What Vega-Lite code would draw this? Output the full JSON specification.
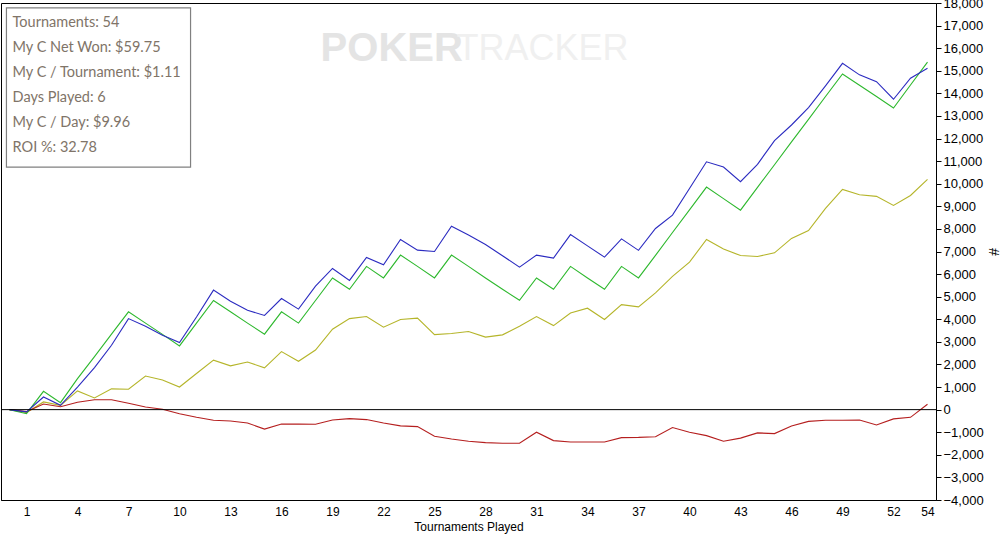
{
  "$schema": "https://vega.github.io/schema/vega-lite/v6.json",
  "width": 935,
  "height": 497,
  "autosize": {"type": "none"},
  "padding": {"left": 1, "top": 3, "right": 65, "bottom": 40},
  "background": "white",
  "config": {
    "view": {"stroke": "#000000", "strokeWidth": 1},
    "axis": {
      "labelFont": "Liberation Sans",
      "titleFont": "Liberation Sans",
      "labelColor": "#000000",
      "titleColor": "#000000",
      "domainColor": "#000000",
      "tickColor": "#000000",
      "gridColor": "#ebebeb",
      "titleFontWeight": "normal"
    }
  },
  "datasets": {
    "results": [
      {"t": 0, "allin_adj": 0, "net_won": 0, "showdown": 0, "non_showdown": 0},
      {"t": 1, "allin_adj": -100, "net_won": -180, "showdown": -130, "non_showdown": -90},
      {"t": 2, "allin_adj": 560, "net_won": 810, "showdown": 340, "non_showdown": 250},
      {"t": 3, "allin_adj": 190, "net_won": 310, "showdown": 190, "non_showdown": 130},
      {"t": 4, "allin_adj": 1000, "net_won": 1370, "showdown": 830, "non_showdown": 330},
      {"t": 5, "allin_adj": 1860, "net_won": 2350, "showdown": 520, "non_showdown": 440},
      {"t": 6, "allin_adj": 2850, "net_won": 3340, "showdown": 920, "non_showdown": 440},
      {"t": 7, "allin_adj": 4030, "net_won": 4330, "showdown": 900, "non_showdown": 280},
      {"t": 8, "allin_adj": 3690, "net_won": 3830, "showdown": 1490, "non_showdown": 120},
      {"t": 9, "allin_adj": 3290, "net_won": 3330, "showdown": 1310, "non_showdown": 15},
      {"t": 10, "allin_adj": 2970, "net_won": 2820, "showdown": 1000, "non_showdown": -180},
      {"t": 11, "allin_adj": 4100, "net_won": 3830, "showdown": 1600, "non_showdown": -340},
      {"t": 12, "allin_adj": 5290, "net_won": 4830, "showdown": 2190, "non_showdown": -470},
      {"t": 13, "allin_adj": 4800, "net_won": 4330, "showdown": 1940, "non_showdown": -500},
      {"t": 14, "allin_adj": 4400, "net_won": 3830, "showdown": 2110, "non_showdown": -590},
      {"t": 15, "allin_adj": 4170, "net_won": 3340, "showdown": 1850, "non_showdown": -860},
      {"t": 16, "allin_adj": 4920, "net_won": 4330, "showdown": 2570, "non_showdown": -640},
      {"t": 17, "allin_adj": 4450, "net_won": 3830, "showdown": 2140, "non_showdown": -640},
      {"t": 18, "allin_adj": 5470, "net_won": 4830, "showdown": 2640, "non_showdown": -650},
      {"t": 19, "allin_adj": 6250, "net_won": 5830, "showdown": 3560, "non_showdown": -460},
      {"t": 20, "allin_adj": 5720, "net_won": 5330, "showdown": 4030, "non_showdown": -400},
      {"t": 21, "allin_adj": 6740, "net_won": 6340, "showdown": 4120, "non_showdown": -440},
      {"t": 22, "allin_adj": 6410, "net_won": 5830, "showdown": 3650, "non_showdown": -590},
      {"t": 23, "allin_adj": 7530, "net_won": 6840, "showdown": 3990, "non_showdown": -720},
      {"t": 24, "allin_adj": 7060, "net_won": 6340, "showdown": 4050, "non_showdown": -750},
      {"t": 25, "allin_adj": 7000, "net_won": 5830, "showdown": 3320, "non_showdown": -1180},
      {"t": 26, "allin_adj": 8120, "net_won": 6840, "showdown": 3370, "non_showdown": -1300},
      {"t": 27, "allin_adj": 7730, "net_won": 6340, "showdown": 3460, "non_showdown": -1400},
      {"t": 28, "allin_adj": 7310, "net_won": 5830, "showdown": 3210, "non_showdown": -1460},
      {"t": 29, "allin_adj": 6810, "net_won": 5330, "showdown": 3310, "non_showdown": -1490},
      {"t": 30, "allin_adj": 6310, "net_won": 4840, "showdown": 3690, "non_showdown": -1490},
      {"t": 31, "allin_adj": 6840, "net_won": 5830, "showdown": 4120, "non_showdown": -1000},
      {"t": 32, "allin_adj": 6710, "net_won": 5330, "showdown": 3720, "non_showdown": -1370},
      {"t": 33, "allin_adj": 7750, "net_won": 6340, "showdown": 4280, "non_showdown": -1430},
      {"t": 34, "allin_adj": 7250, "net_won": 5830, "showdown": 4490, "non_showdown": -1430},
      {"t": 35, "allin_adj": 6750, "net_won": 5330, "showdown": 3990, "non_showdown": -1430},
      {"t": 36, "allin_adj": 7560, "net_won": 6340, "showdown": 4650, "non_showdown": -1240},
      {"t": 37, "allin_adj": 7050, "net_won": 5830, "showdown": 4550, "non_showdown": -1230},
      {"t": 38, "allin_adj": 8020, "net_won": 6830, "showdown": 5170, "non_showdown": -1200},
      {"t": 39, "allin_adj": 8610, "net_won": 7840, "showdown": 5900, "non_showdown": -790},
      {"t": 40, "allin_adj": 9790, "net_won": 8840, "showdown": 6530, "non_showdown": -1000},
      {"t": 41, "allin_adj": 10970, "net_won": 9850, "showdown": 7530, "non_showdown": -1150},
      {"t": 42, "allin_adj": 10740, "net_won": 9340, "showdown": 7110, "non_showdown": -1400},
      {"t": 43, "allin_adj": 10090, "net_won": 8830, "showdown": 6820, "non_showdown": -1260},
      {"t": 44, "allin_adj": 10860, "net_won": 9840, "showdown": 6780, "non_showdown": -1030},
      {"t": 45, "allin_adj": 11910, "net_won": 10840, "showdown": 6940, "non_showdown": -1060},
      {"t": 46, "allin_adj": 12600, "net_won": 11850, "showdown": 7580, "non_showdown": -720},
      {"t": 47, "allin_adj": 13370, "net_won": 12850, "showdown": 7930, "non_showdown": -520},
      {"t": 48, "allin_adj": 14330, "net_won": 13860, "showdown": 8910, "non_showdown": -470},
      {"t": 49, "allin_adj": 15330, "net_won": 14860, "showdown": 9750, "non_showdown": -470},
      {"t": 50, "allin_adj": 14820, "net_won": 14360, "showdown": 9510, "non_showdown": -460},
      {"t": 51, "allin_adj": 14520, "net_won": 13860, "showdown": 9440, "non_showdown": -680},
      {"t": 52, "allin_adj": 13740, "net_won": 13350, "showdown": 9040, "non_showdown": -410},
      {"t": 53, "allin_adj": 14670, "net_won": 14370, "showdown": 9480, "non_showdown": -340},
      {"t": 54, "allin_adj": 15110, "net_won": 15380, "showdown": 10190, "non_showdown": 240}
    ],
    "stats": [
      {"label": "Tournaments: 54", "row": 17100},
      {"label": "My C Net Won: $59.75", "row": 15990},
      {"label": "My C / Tournament: $1.11", "row": 14880},
      {"label": "Days Played: 6", "row": 13780},
      {"label": "My C / Day: $9.96", "row": 12670},
      {"label": "ROI %: 32.78", "row": 11560}
    ]
  },
  "layer": [
    {
      "data": {"values": [{}]},
      "mark": {"type": "text", "font": "Liberation Sans", "fontSize": 40, "fontWeight": "bold", "baseline": "middle", "align": "left", "color": "#e4e4e4", "text": "POKER"},
      "encoding": {
        "x": {"datum": 18.3, "type": "quantitative", "title": "Tournaments Played", "scale": {"domain": [-0.5, 54.5], "nice": false, "zero": false}, "axis": {"values": [1, 4, 7, 10, 13, 16, 19, 22, 25, 28, 31, 34, 37, 40, 43, 46, 49, 52, 54], "titleFontSize": 12, "titlePadding": 4, "labelFontSize": 12, "labelPadding": 6, "ticks": false, "labelAngle": 0}},
        "y": {"datum": 15950, "type": "quantitative", "title": "#", "scale": {"domain": [-4000, 18000], "nice": false, "zero": false}, "axis": {"orient": "right", "values": [-4000, -3000, -2000, -1000, 0, 1000, 2000, 3000, 4000, 5000, 6000, 7000, 8000, 9000, 10000, 11000, 12000, 13000, 14000, 15000, 16000, 17000, 18000], "format": ",d", "titleFontSize": 14, "titlePadding": 2, "labelFontSize": 13, "labelPadding": 2, "labelOverlap": false, "tickSize": 5}}
      }
    },
    {
      "data": {"values": [{}]},
      "mark": {"type": "text", "font": "Liberation Sans", "fontSize": 36, "baseline": "middle", "align": "left", "color": "#f0f0f0", "text": "TRACKER"},
      "encoding": {
        "x": {"datum": 26.3, "type": "quantitative", "title": "Tournaments Played", "scale": {"domain": [-0.5, 54.5], "nice": false, "zero": false}, "axis": {"values": [1, 4, 7, 10, 13, 16, 19, 22, 25, 28, 31, 34, 37, 40, 43, 46, 49, 52, 54], "titleFontSize": 12, "titlePadding": 4, "labelFontSize": 12, "labelPadding": 6, "ticks": false, "labelAngle": 0}},
        "y": {"datum": 15950, "type": "quantitative", "title": "#", "scale": {"domain": [-4000, 18000], "nice": false, "zero": false}, "axis": {"orient": "right", "values": [-4000, -3000, -2000, -1000, 0, 1000, 2000, 3000, 4000, 5000, 6000, 7000, 8000, 9000, 10000, 11000, 12000, 13000, 14000, 15000, 16000, 17000, 18000], "format": ",d", "titleFontSize": 14, "titlePadding": 2, "labelFontSize": 13, "labelPadding": 2, "labelOverlap": false, "tickSize": 5}}
      }
    },
    {
      "data": {"name": "results"},
      "transform": [
        {"fold": ["showdown", "non_showdown", "net_won", "allin_adj"], "as": ["series", "value"]}
      ],
      "mark": {"type": "line", "strokeWidth": 1.1},
      "encoding": {
        "x": {"field": "t", "type": "quantitative", "title": "Tournaments Played", "scale": {"domain": [-0.5, 54.5], "nice": false, "zero": false}, "axis": {"values": [1, 4, 7, 10, 13, 16, 19, 22, 25, 28, 31, 34, 37, 40, 43, 46, 49, 52, 54], "titleFontSize": 12, "titlePadding": 4, "labelFontSize": 12, "labelPadding": 6, "ticks": false, "labelAngle": 0}},
        "y": {"field": "value", "type": "quantitative", "title": "#", "scale": {"domain": [-4000, 18000], "nice": false, "zero": false}, "axis": {"orient": "right", "values": [-4000, -3000, -2000, -1000, 0, 1000, 2000, 3000, 4000, 5000, 6000, 7000, 8000, 9000, 10000, 11000, 12000, 13000, 14000, 15000, 16000, 17000, 18000], "format": ",d", "titleFontSize": 14, "titlePadding": 2, "labelFontSize": 13, "labelPadding": 2, "labelOverlap": false, "tickSize": 5}},
        "color": {
          "field": "series",
          "type": "nominal",
          "legend": null,
          "scale": {
            "domain": ["allin_adj", "net_won", "showdown", "non_showdown"],
            "range": ["#2b2bc0", "#2db82d", "#b5b52a", "#b51f1f"]
          }
        },
        "order": {"field": "t"}
      }
    },
    {
      "data": {"values": [{}]},
      "mark": {"type": "rule", "color": "#000000", "strokeWidth": 1},
      "encoding": {
        "y": {"datum": 0, "type": "quantitative", "title": "#", "scale": {"domain": [-4000, 18000], "nice": false, "zero": false}, "axis": {"orient": "right", "values": [-4000, -3000, -2000, -1000, 0, 1000, 2000, 3000, 4000, 5000, 6000, 7000, 8000, 9000, 10000, 11000, 12000, 13000, 14000, 15000, 16000, 17000, 18000], "format": ",d", "titleFontSize": 14, "titlePadding": 2, "labelFontSize": 13, "labelPadding": 2, "labelOverlap": false, "tickSize": 5}}
      }
    },
    {
      "data": {"values": [{}]},
      "mark": {"type": "rect", "fill": "#ffffff", "fillOpacity": 0.5, "stroke": "#808080", "strokeWidth": 1.2},
      "encoding": {
        "x": {"datum": -0.18, "type": "quantitative", "title": "Tournaments Played", "scale": {"domain": [-0.5, 54.5], "nice": false, "zero": false}, "axis": {"values": [1, 4, 7, 10, 13, 16, 19, 22, 25, 28, 31, 34, 37, 40, 43, 46, 49, 52, 54], "titleFontSize": 12, "titlePadding": 4, "labelFontSize": 12, "labelPadding": 6, "ticks": false, "labelAngle": 0}},
        "x2": {"datum": 10.65},
        "y": {"datum": 17780, "type": "quantitative", "title": "#", "scale": {"domain": [-4000, 18000], "nice": false, "zero": false}, "axis": {"orient": "right", "values": [-4000, -3000, -2000, -1000, 0, 1000, 2000, 3000, 4000, 5000, 6000, 7000, 8000, 9000, 10000, 11000, 12000, 13000, 14000, 15000, 16000, 17000, 18000], "format": ",d", "titleFontSize": 14, "titlePadding": 2, "labelFontSize": 13, "labelPadding": 2, "labelOverlap": false, "tickSize": 5}},
        "y2": {"datum": 10735}
      }
    },
    {
      "data": {"name": "stats"},
      "mark": {"type": "text", "font": "Lato", "fontSize": 14.5, "align": "left", "baseline": "middle", "color": "#807468"},
      "encoding": {
        "x": {"datum": 0.18, "type": "quantitative", "title": "Tournaments Played", "scale": {"domain": [-0.5, 54.5], "nice": false, "zero": false}, "axis": {"values": [1, 4, 7, 10, 13, 16, 19, 22, 25, 28, 31, 34, 37, 40, 43, 46, 49, 52, 54], "titleFontSize": 12, "titlePadding": 4, "labelFontSize": 12, "labelPadding": 6, "ticks": false, "labelAngle": 0}},
        "y": {"field": "row", "type": "quantitative", "title": "#", "scale": {"domain": [-4000, 18000], "nice": false, "zero": false}, "axis": {"orient": "right", "values": [-4000, -3000, -2000, -1000, 0, 1000, 2000, 3000, 4000, 5000, 6000, 7000, 8000, 9000, 10000, 11000, 12000, 13000, 14000, 15000, 16000, 17000, 18000], "format": ",d", "titleFontSize": 14, "titlePadding": 2, "labelFontSize": 13, "labelPadding": 2, "labelOverlap": false, "tickSize": 5}},
        "text": {"field": "label"}
      }
    }
  ]
}
